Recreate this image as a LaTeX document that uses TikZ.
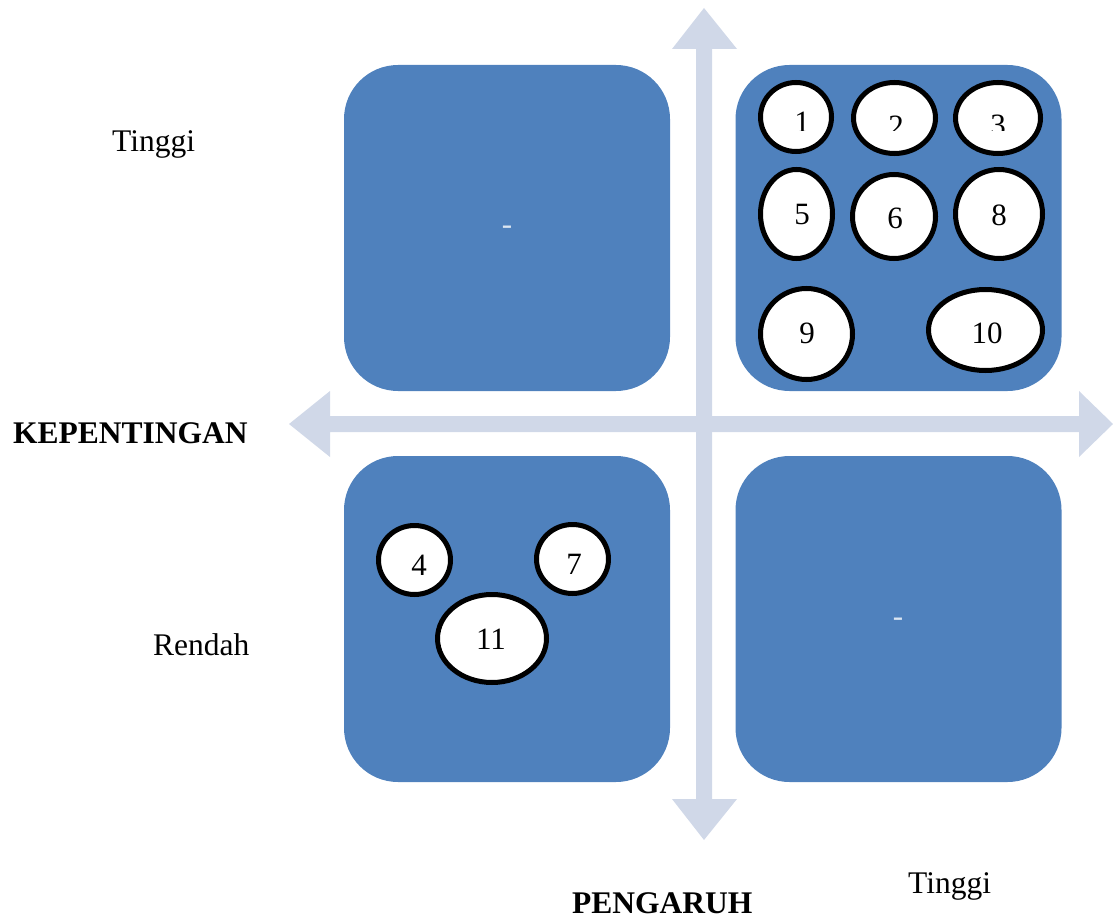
\documentclass[tikz,border=0pt]{standalone}
\usepackage{fontspec}
\setmainfont{Liberation Serif}
\usetikzlibrary{shapes.geometric}
\definecolor{quadblue}{HTML}{4F81BD}
\definecolor{axisgray}{HTML}{D0D8E8}
\definecolor{dashwhite}{HTML}{DCE6F2}
\tikzset{
  quad/.style={draw=none, fill=quadblue, rounded corners=54pt, minimum width=326pt, minimum height=326pt, inner sep=0pt},
  dashtxt/.style={text=dashwhite, font=\fontsize{31}{36}\selectfont, inner sep=0pt},
  bub/.style={ellipse, draw=black, line width=5pt, fill=white, inner sep=0pt},
  num/.style={font=\fontsize{31}{36}\selectfont, inner sep=0pt, text=black},
  lbl/.style={font=\fontsize{31.5}{36}\selectfont, inner sep=0pt, anchor=base west},
  blbl/.style={lbl, font=\fontsize{31.5}{36}\selectfont\bfseries},
  axisfill/.style={fill=axisgray, draw=none}
}
\begin{document}
\begin{tikzpicture}[x=1pt,y=-1pt]
\useasboundingbox (0,0) rectangle (1113,920);
% axes
\fill[axisfill] (696,49) -- (672,49) -- (704,8) -- (737,49) -- (712,49) -- (712,799) -- (737,799) -- (704,840) -- (672,799) -- (696,799) -- cycle;
\fill[axisfill] (330,416) -- (330,391) -- (289,424) -- (330,457) -- (330,432) -- (1079,432) -- (1079,457) -- (1113,424) -- (1079,391) -- (1079,416) -- cycle;
% quadrants
\node[quad] (tl) at (507,228) {};
\node[quad] (tr) at (898.5,228) {};
\node[quad] (bl) at (507,619) {};
\node[quad] (br) at (898.5,619) {};
\node[dashtxt] (d1) at (507,230) {-};
\node[dashtxt] (d2) at (898,622) {-};
% bubbles top-right
\node[bub, minimum width=71pt, minimum height=69pt] (e1) at (796,117) {};
\node[bub, minimum width=82pt, minimum height=71pt] (e2) at (894.5,118) {};
\node[bub, minimum width=85pt, minimum height=71pt] (e3) at (998,118) {};
\node[bub, minimum width=72pt, minimum height=89pt] (e5) at (796.5,214) {};
\node[bub, minimum width=83pt, minimum height=84pt] (e6) at (894,216.5) {};
\node[bub, minimum width=87pt, minimum height=89pt] (e8) at (999,214) {};
\node[bub, minimum width=92pt, minimum height=91pt] (e9) at (806.5,334) {};
\node[bub, minimum width=114pt, minimum height=81pt] (e10) at (985.5,330) {};
% bubbles bottom-left
\node[bub, minimum width=72pt, minimum height=69pt] (e4) at (414.5,560) {};
\node[bub, minimum width=72pt, minimum height=69pt] (e7) at (572.5,559) {};
\node[bub, minimum width=109pt, minimum height=88pt] (e11) at (492,638.5) {};
% numbers
\begin{scope}
\clip (740,70) rectangle (1060,131);
\node[num] (t1) at (802,122) {1};
\node[num] (t2) at (896,126) {2};
\node[num] (t3) at (998,125) {3};
\end{scope}
\node[num] (t5) at (802,215) {5};
\node[num] (t6) at (895,218) {6};
\node[num] (t8) at (999,215) {8};
\node[num] (t9) at (807,333) {9};
\node[num] (t10) at (987,333) {10};
\node[num] (t4) at (419,565) {4};
\node[num] (t7) at (574,564) {7};
\node[num] (t11) at (491,639) {11};
% labels
\node[lbl] (tinggi1) at (112,152) {Tinggi};
\node[lbl] (rendah) at (153,655) {Rendah};
\node[blbl] (kep) at (13,443) {KEPENTINGAN};
\node[blbl] (peng) at (572,913) {PENGARUH};
\node[lbl] (tinggi2) at (908,893) {Tinggi};
\end{tikzpicture}
\end{document}
